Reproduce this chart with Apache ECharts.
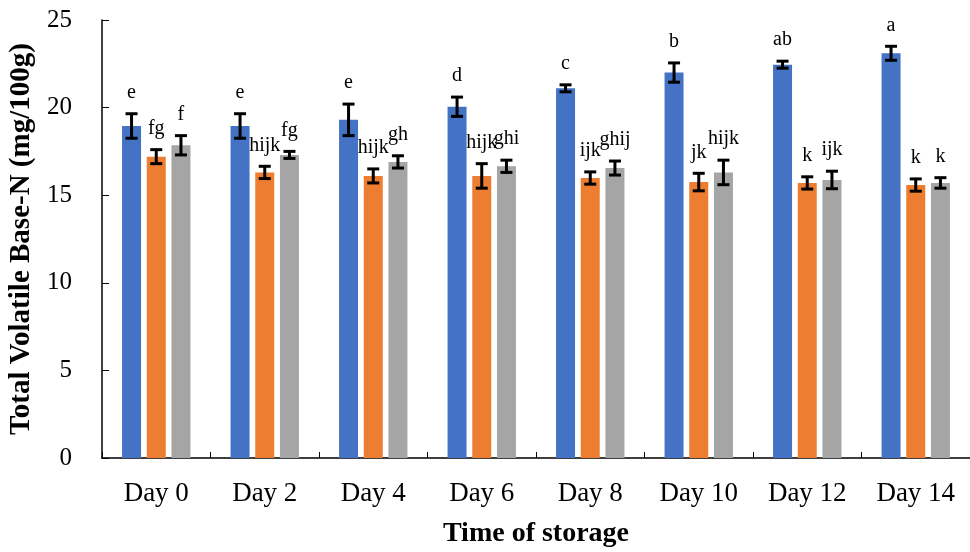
<!DOCTYPE html>
<html>
<head>
<meta charset="utf-8">
<script src="https://cdn.jsdelivr.net/npm/echarts@6/dist/echarts.min.js"></script>
<style>
  html, body { margin: 0; padding: 0; background: #fff; }
  #chart { width: 970px; height: 552px; }
</style>
</head>
<body>
<div id="chart"></div>
<script>
// Storage days
const categories = ['Day 0', 'Day 2', 'Day 4', 'Day 6', 'Day 8', 'Day 10', 'Day 12', 'Day 14'];

// Mean TVB-N (mg/100g) for the three treatments
const seriesA = [18.95, 18.95, 19.3, 20.05, 21.1, 22.0, 22.45, 23.1];
const seriesB = [17.2, 16.3, 16.1, 16.1, 15.98, 15.75, 15.7, 15.58];
const seriesC = [17.85, 17.3, 16.9, 16.65, 16.55, 16.3, 15.87, 15.7];

// Standard deviations
const errA = [0.7, 0.7, 0.9, 0.55, 0.2, 0.55, 0.2, 0.4];
const errB = [0.4, 0.35, 0.4, 0.7, 0.35, 0.5, 0.35, 0.35];
const errC = [0.55, 0.2, 0.35, 0.35, 0.4, 0.7, 0.5, 0.3];

// Significance letters
const lettersA = ['e', 'e', 'e', 'd', 'c', 'b', 'ab', 'a'];
const lettersB = ['fg', 'hijk', 'hijk', 'hijk', 'ijk', 'jk', 'k', 'k'];
const lettersC = ['f', 'fg', 'gh', 'ghi', 'ghij', 'hijk', 'ijk', 'k'];

// Y axis ticks
const yMin = 0, yMax = 25, yStep = 5;

const FONT = '"Liberation Serif", "Times New Roman", serif';
const COLORS = ['#4472C4', '#ED7D31', '#A5A5A5'];
const BAR_W = 19;
const BAR_GAP = 0.3;

const groups = [
  { name: 'A', values: seriesA, errs: errA, letters: lettersA },
  { name: 'B', values: seriesB, errs: errB, letters: lettersB },
  { name: 'C', values: seriesC, errs: errC, letters: lettersC }
];

const chart = echarts.init(document.getElementById('chart'), null, { renderer: 'canvas' });

const barSeries = groups.map((g, i) => ({
  type: 'bar',
  name: g.name,
  data: g.values,
  barWidth: BAR_W,
  barGap: (BAR_GAP * 100) + '%',
  itemStyle: { color: COLORS[i] },
  silent: true
}));

// Error bars with letter labels, drawn over the bars
const errSeries = groups.map((g, i) => ({
  type: 'custom',
  name: g.name + '-err',
  silent: true,
  z: 5,
  data: g.values.map((v, k) => [k, v, g.errs[k]]),
  renderItem: function (params, api) {
    const k = api.value(0), v = api.value(1), e = api.value(2);
    const letter = g.letters[k];
    const dx = (i - 1) * BAR_W * (1 + BAR_GAP);
    const top = api.coord([k, v + e]);
    const bot = api.coord([k, v - e]);
    const x = top[0] + dx;
    const cap = 6;
    const style = { stroke: '#000', lineWidth: 3 };
    return {
      type: 'group',
      children: [
        { type: 'line', shape: { x1: x, y1: top[1], x2: x, y2: bot[1] }, style: style },
        { type: 'line', shape: { x1: x - cap, y1: top[1], x2: x + cap, y2: top[1] }, style: style },
        { type: 'line', shape: { x1: x - cap, y1: bot[1], x2: x + cap, y2: bot[1] }, style: style },
        {
          type: 'text',
          x: x, y: top[1] - 11,
          style: {
            text: letter, fill: '#000',
            font: '20px ' + FONT,
            align: 'center', verticalAlign: 'bottom'
          }
        }
      ]
    };
  }
}));

chart.setOption({
  animation: false,
  backgroundColor: '#fff',
  textStyle: { fontFamily: FONT, color: '#000' },
  grid: { left: 102, right: 0, top: 20, bottom: 94, containLabel: false, outerBoundsMode: 'none' },
  xAxis: {
    type: 'category',
    data: categories,
    name: 'Time of storage',
    nameLocation: 'middle',
    nameGap: 62,
    nameTextStyle: { fontFamily: FONT, fontWeight: 'bold', fontSize: 28, color: '#000' },
    axisLine: { lineStyle: { color: '#000', width: 1.5 } },
    axisTick: { show: true, inside: true, length: 6, lineStyle: { color: '#000', width: 1 } },
    axisLabel: { fontFamily: FONT, fontSize: 27, color: '#000', margin: 22 }
  },
  yAxis: {
    type: 'value',
    min: yMin, max: yMax, interval: yStep,
    name: 'Total Volatile Base-N (mg/100g)',
    nameLocation: 'middle',
    nameRotate: 90,
    nameGap: 64,
    nameTextStyle: { fontFamily: FONT, fontWeight: 'bold', fontSize: 29, color: '#000' },
    axisLine: { show: true, lineStyle: { color: '#000', width: 1.5 } },
    axisTick: { show: true, inside: true, length: 7, lineStyle: { color: '#000', width: 1 } },
    splitLine: { show: false },
    axisLabel: { fontFamily: FONT, fontSize: 25, color: '#000', margin: 30 }
  },
  series: barSeries.concat(errSeries)
});
</script>
</body>
</html>
